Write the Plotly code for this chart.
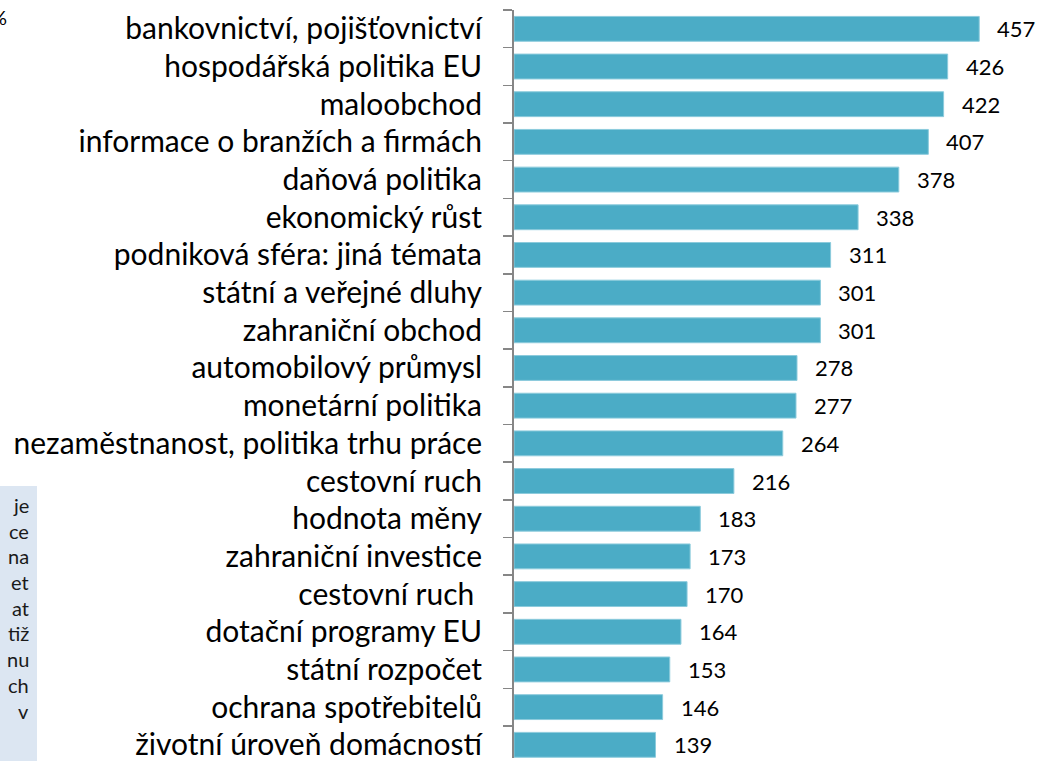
import plotly.graph_objects as go

categories = [
    "bankovnictví, pojišťovnictví",
    "hospodářská politika EU",
    "maloobchod",
    "informace o branžích a firmách",
    "daňová politika",
    "ekonomický růst",
    "podniková sféra: jiná témata",
    "státní a veřejné dluhy",
    "zahraniční obchod",
    "automobilový průmysl",
    "monetární politika",
    "nezaměstnanost, politika trhu práce",
    "cestovní ruch",
    "hodnota měny",
    "zahraniční investice",
    "cestovní ruch ",
    "dotační programy EU",
    "státní rozpočet",
    "ochrana spotřebitelů",
    "životní úroveň domácností",
]
values = [457, 426, 422, 407, 378, 338, 311, 301, 301, 278,
          277, 264, 216, 183, 173, 170, 164, 153, 146, 139]

side_fragments = ["je", "ce", "na", "et", "at", "tiž", "nu", "ch", "v"]

W, H = 1037, 761
L, T = 514, 10
PW, PH = W - L, H - T

def px(x):
    return (x - L) / PW

def py(y):
    return (H - y) / PH

FONT = "Lato"
BAR = "#4BACC6"

fig = go.Figure(go.Bar(
    x=values, y=categories, orientation="h",
    marker=dict(color=BAR, line=dict(color="#8ccbdc", width=1)),
    hoverinfo="skip",
))

annotations = []
for c, v in zip(categories, values):
    annotations.append(dict(
        x=v, y=c, xref="x", yref="y", text=str(v), showarrow=False,
        xanchor="left", yanchor="middle", xshift=16,
        font=dict(family=FONT, size=22, color="#000000"),
    ))

annotations.append(dict(
    x=px(9), y=py(17), xref="paper", yref="paper", text="%", showarrow=False,
    xanchor="right", yanchor="middle",
    font=dict(family=FONT, size=20, color="#000000"),
))
for i, frag in enumerate(side_fragments):
    annotations.append(dict(
        x=px(31), y=py(507 + 25.8 * i), xref="paper", yref="paper", text=frag,
        showarrow=False, xanchor="right", yanchor="middle",
        font=dict(family=FONT, size=20, color="#1a1a1a"),
    ))

fig.update_layout(
    width=W, height=H,
    margin=dict(l=L, r=0, t=T, b=0, pad=0),
    paper_bgcolor="white", plot_bgcolor="white",
    bargap=0.34,
    showlegend=False,
    annotations=annotations,
    shapes=[dict(
        type="rect", xref="paper", yref="paper", layer="below",
        x0=px(-20), x1=px(37), y0=py(488), y1=py(775),
        fillcolor="#DCE6F2", line=dict(width=0),
    )],
    xaxis=dict(visible=False, range=[0, PW / 1.018], fixedrange=True),
    yaxis=dict(
        type="category", autorange=False, range=[19.35, -0.5],
        categoryorder="array", categoryarray=categories,
        showline=True, linecolor="#868686", linewidth=2,
        ticks="outside", tickson="boundaries", ticklen=9,
        tickcolor="#868686", tickwidth=1.5,
        ticklabelstandoff=24,
        showgrid=False, zeroline=False, fixedrange=True,
        tickfont=dict(family=FONT, size=30, color="#000000"),
    ),
)

fig.write_html(
    "out.html",
    config={"displayModeBar": False, "staticPlot": True},
    post_script="document.body.style.margin='0';document.body.style.overflow='hidden';",
)
